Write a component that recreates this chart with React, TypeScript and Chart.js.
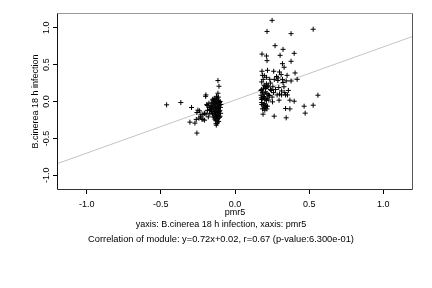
import React, { useEffect, useRef } from "react";
import { Chart, registerables } from "chart.js";

Chart.register(...registerables);

// x values (pmr5)
const pmr5: number[] = [
  // left cluster, sparse
  -0.461, -0.365, -0.293, -0.196, -0.198, -0.115, -0.108, -0.115, -0.122, -0.176,
  -0.25, -0.257, -0.239, -0.23, -0.243, -0.304, -0.27, -0.216, -0.257, -0.126,
  -0.18, -0.205, -0.171, -0.159, -0.149, -0.223, -0.261, -0.232, -0.205, -0.216,
  -0.142, -0.164, -0.187,
  // left cluster, dense
  -0.15, -0.14, -0.13, -0.12, -0.11, -0.1,
  -0.145, -0.135, -0.125, -0.115, -0.105, -0.095,
  -0.15, -0.14, -0.128, -0.118, -0.108, -0.098,
  -0.155, -0.143, -0.132, -0.122, -0.112, -0.102,
  -0.148, -0.138, -0.127, -0.117, -0.107, -0.097,
  -0.152, -0.141, -0.131, -0.121, -0.111, -0.101,
  -0.146, -0.136, -0.125, -0.115, -0.105, -0.12,
  -0.13, -0.11, -0.135, -0.14, -0.112, -0.125,
  -0.16, -0.158, -0.165, -0.118, -0.128,
  -0.19, -0.175, -0.185, -0.17, -0.195,
  // right cluster, sparse
  0.25, 0.216, 0.378, 0.527, 0.27, 0.324, 0.182, 0.212, 0.216, 0.304,
  0.399, 0.378, 0.32, 0.331, 0.182, 0.219, 0.261, 0.405, 0.419, 0.185,
  0.212, 0.234, 0.28, 0.311, 0.351, 0.289, 0.324, 0.378, 0.18, 0.196,
  0.212, 0.223, 0.18, 0.205, 0.239, 0.273, 0.295, 0.314, 0.284, 0.314,
  0.341, 0.354, 0.559, 0.176, 0.194, 0.232, 0.18, 0.212, 0.253, 0.297,
  0.37, 0.399, 0.18, 0.205, 0.219, 0.341, 0.37, 0.466, 0.527, 0.201,
  0.473, 0.189, 0.264, 0.345,
  // right cluster, dense
  0.175, 0.185, 0.195, 0.205, 0.215, 0.225,
  0.178, 0.188, 0.198, 0.208, 0.218, 0.228,
  0.18, 0.19, 0.2, 0.21, 0.195, 0.205,
  0.185, 0.215, 0.192, 0.202, 0.212, 0.222,
  0.24, 0.255, 0.26, 0.25, 0.245, 0.265,
  0.3, 0.29, 0.32, 0.33, 0.3, 0.335, 0.345, 0.36, 0.19, 0.198,
];

// y values (B.cinerea 18 h infection)
const infection: number[] = [
  -0.045, -0.014, -0.081, 0.089, 0.07, 0.284, 0.207, 0.112, 0.049, -0.023,
  -0.118, -0.149, -0.127, -0.181, -0.226, -0.28, -0.293, -0.243, -0.428, -0.32,
  -0.208, -0.162, -0.118, -0.073, 0.018, -0.239, -0.243, -0.208, -0.253, -0.176,
  0.018, -0.073, -0.055,
  0.03, 0.04, 0.02, 0.035, 0.01, 0.0,
  -0.01, -0.02, -0.005, -0.03, -0.015, -0.04,
  -0.05, -0.06, -0.045, -0.07, -0.055, -0.08,
  -0.09, -0.1, -0.085, -0.11, -0.095, -0.12,
  -0.13, -0.14, -0.125, -0.15, -0.135, -0.16,
  -0.17, -0.18, -0.165, -0.19, -0.175, -0.2,
  -0.21, -0.22, -0.205, -0.23, -0.215, -0.25,
  -0.26, -0.27, -0.24, -0.03, 0.06, 0.07,
  -0.02, -0.14, -0.11, -0.29, -0.3,
  -0.04, -0.08, -0.12, -0.16, -0.17,
  1.1, 0.95, 0.92, 0.98, 0.757, 0.707, 0.643, 0.617, 0.554, 0.626,
  0.653, 0.545, 0.513, 0.464, 0.41, 0.423, 0.41, 0.387, 0.301, 0.355,
  0.328, 0.301, 0.338, 0.365, 0.355, 0.284, 0.257, 0.278, 0.265, 0.22,
  0.197, 0.22, 0.162, 0.176, 0.162, 0.162, 0.189, 0.143, 0.089, 0.089,
  0.089, 0.089, 0.085, 0.085, 0.068, 0.081, 0.027, 0.014, -0.005, 0.018,
  0.018, 0.004, -0.014, -0.064, -0.064, -0.095, -0.1, -0.064, -0.05, -0.118,
  -0.158, -0.172, -0.199, -0.221,
  0.15, 0.12, 0.1, 0.13, 0.11, 0.09,
  0.05, 0.04, 0.06, 0.03, 0.045, 0.02,
  -0.04, -0.05, -0.03, -0.06, -0.09, -0.08,
  -0.1, -0.1, 0.18, 0.21, 0.24, 0.2,
  0.25, 0.2, 0.12, 0.06, 0.15, 0.3,
  0.4, 0.32, 0.3, 0.2, 0.1, 0.12, 0.28, 0.15, 0.3, 0.35,
];

const xTicks = [-1, -0.5, 0, 0.5, 1];
const yTicks = [-1, -0.5, 0, 0.5, 1];
const axisMin = -1.2;
const axisMax = 1.2;
const slope = 0.72;
const intercept = 0.02;

const xTitle = "pmr5";
const yTitle = "B.cinerea 18 h infection";
const subLine = "yaxis: B.cinerea 18 h infection, xaxis: pmr5";
const corrLine = "Correlation of module: y=0.72x+0.02, r=0.67 (p-value:6.300e-01)";

const FONT = '"Liberation Sans", Arial, Helvetica, sans-serif';

const framePlugin = {
  id: "frameAndNotes",
  afterDraw(chart: any) {
    const { ctx, chartArea: a } = chart;
    const L = Math.round(a.left) + 0.5;
    const R = Math.round(a.right) - 0.5;
    const T = Math.round(a.top) + 0.5;
    const B = Math.round(a.bottom) - 0.5;
    const seg = (x1: number, y1: number, x2: number, y2: number, c: string) => {
      ctx.beginPath();
      ctx.strokeStyle = c;
      ctx.moveTo(x1, y1);
      ctx.lineTo(x2, y2);
      ctx.stroke();
    };
    ctx.save();
    ctx.lineWidth = 1;
    seg(L, T, R, T, "#9a9a9a");
    seg(R, T, R, B, "#555555");
    seg(L, B, R, B, "#333333");
    seg(L, T, L, B, "#111111");
    const cx = (a.left + a.right) / 2 - 14;
    ctx.fillStyle = "#000";
    ctx.textAlign = "center";
    ctx.textBaseline = "middle";
    ctx.font = `9px ${FONT}`;
    ctx.fillText(subLine, cx, a.bottom + 35);
    ctx.font = `9.3px ${FONT}`;
    ctx.fillText(corrLine, cx, a.bottom + 49.3);
    ctx.restore();
  },
};

export default function App() {
  const ref = useRef<HTMLCanvasElement | null>(null);

  useEffect(() => {
    if (!ref.current) return;
    const points = pmr5.map((x, i) => ({ x, y: infection[i] }));
    const fit = [axisMin, axisMax].map((x) => ({ x, y: slope * x + intercept }));

    const chart = new Chart(ref.current, {
      type: "scatter",
      data: {
        datasets: [
          {
            type: "line",
            data: fit,
            borderColor: "#c4c4c4",
            borderWidth: 1,
            pointRadius: 0,
            fill: false,
            order: 2,
          } as any,
          {
            data: points,
            pointStyle: "cross",
            pointRadius: 2.5,
            pointBorderWidth: 1,
            borderColor: "#000",
            backgroundColor: "#000",
            order: 1,
          } as any,
        ],
      },
      options: {
        responsive: false,
        animation: false,
        devicePixelRatio: 1,
        layout: { padding: { top: 13, right: 19, left: 0, bottom: 0 } },
        plugins: {
          legend: { display: false },
          tooltip: { enabled: false },
        },
        font: { family: FONT, size: 9 } as any,
        scales: {
          x: {
            type: "linear",
            min: axisMin,
            max: axisMax,
            afterBuildTicks: (s: any) => {
              s.ticks = xTicks.map((v) => ({ value: v }));
            },
            afterFit: (s: any) => {
              s.height = 98;
            },
            grid: {
              drawOnChartArea: false,
              drawTicks: true,
              tickLength: 4,
              color: "#000",
            },
            border: { display: false },
            ticks: {
              color: "#000",
              font: { family: FONT, size: 9 },
              padding: 5,
              maxRotation: 0,
              callback: (v: any) => Number(v).toFixed(1),
            },
            title: {
              display: true,
              text: xTitle,
              color: "#000",
              font: { family: FONT, size: 9 },
              padding: { top: 0, bottom: 70.5 },
            },
          },
          y: {
            type: "linear",
            min: axisMin,
            max: axisMax,
            afterBuildTicks: (s: any) => {
              s.ticks = yTicks.map((v) => ({ value: v }));
            },
            afterFit: (s: any) => {
              s.width = 57;
            },
            grid: {
              drawOnChartArea: false,
              drawTicks: true,
              tickLength: 4,
              color: "#000",
            },
            border: { display: false },
            ticks: {
              color: "#000",
              font: { family: FONT, size: 9 },
              padding: -1,
              minRotation: 90,
              maxRotation: 90,
              crossAlign: "center",
              callback: (v: any) => Number(v).toFixed(1),
            },
            title: {
              display: true,
              text: yTitle,
              color: "#000",
              font: { family: FONT, size: 9 },
              padding: { top: 30.5, bottom: 0 },
            },
          },
        },
      } as any,
      plugins: [framePlugin],
    });
    return () => chart.destroy();
  }, []);

  return (
    <div style={{ position: "absolute", left: 0, top: 0, width: 432, height: 288, background: "#fff" }}>
      <canvas ref={ref} width={432} height={288} />
    </div>
  );
}
